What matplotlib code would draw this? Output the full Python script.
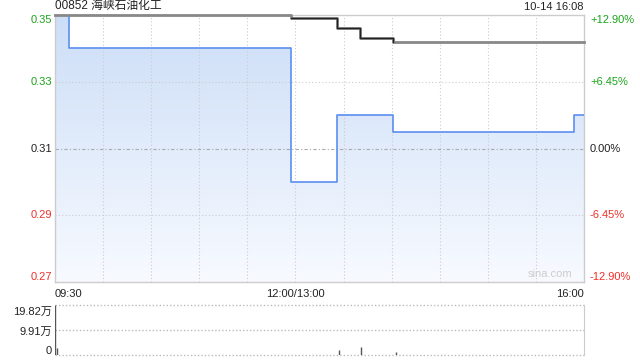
import matplotlib
matplotlib.use("Agg")
import matplotlib.pyplot as plt
import matplotlib.transforms as mtransforms
import numpy as np

plt.rcParams['font.family'] = ['Liberation Sans', 'Noto Sans CJK SC', 'DejaVu Sans']

title = "00852 海峡石油化工"
stamp = "10-14 16:08"
prev_close = 0.31

price_times = ["09:30", "09:39", "11:57", "13:26", "14:01", "15:54", "16:00"]
price_values = [0.35, 0.34, 0.30, 0.32, 0.315, 0.32, 0.32]

avg_times = ["09:30", "11:57", "13:26", "13:40", "14:01", "16:00"]
avg_values = [0.3499, 0.3491, 0.3460, 0.3430, 0.3420, 0.3420]

vol_times = ["09:30", "09:31", "13:27", "13:41", "14:03"]
vol_values = [198200, 24000, 17000, 30500, 9000]

price_ticks = [0.35, 0.33, 0.31, 0.29, 0.27]
price_tick_labels = ["0.35", "0.33", "0.31", "0.29", "0.27"]
pct_tick_labels = ["+12.90%", "+6.45%", "0.00%", "-6.45%", "-12.90%"]
vol_ticks = [198200, 99100, 0]
vol_tick_labels = ["19.82万", "9.91万", "0"]
x_labels = ["09:30", "12:00/13:00", "16:00"]


def tmin(s):
    h, m = map(int, s.split(":"))
    t = h * 60 + m
    if t <= 720:
        return t - 570
    return 150 + (t - 780)


GREEN = "#1aa51a"
RED = "#f0302a"
TXT = "#222222"

fig = plt.figure(figsize=(6.4, 3.6), dpi=100)
ax = fig.add_axes([55 / 640, 1 - 282 / 360, 529 / 640, 267 / 360])
axv = fig.add_axes([55 / 640, 1 - 354.5 / 360, 529 / 640, 50 / 360])

ymin, ymax = 0.27, 0.35
ax.set_xlim(0, 330)
ax.set_ylim(ymin, ymax)

px = [tmin(t) for t in price_times]
py = price_values

# gradient fill under price
poly = ax.fill_between(px, py, ymin, step='post', color='none', linewidth=0)
grad = np.linspace(0, 1, 256).reshape(-1, 1)
top_c = np.array([0.80, 0.87, 0.97])
bot_c = np.array([0.97, 0.98, 1.0])
img = top_c[None, None, :] * (1 - grad[:, :, None]) + bot_c[None, None, :] * grad[:, :, None]
im = ax.imshow(img, extent=[0, 330, ymin, ymax], aspect='auto', origin='upper', zorder=1)
im.set_clip_path(poly.get_paths()[0], transform=ax.transData)

# grid
for k in range(1, 11):
    ax.axvline(k * 30, color="#cccccc", lw=0.8, ls=(0, (1, 2)), zorder=2)
for v in [0.33, 0.29]:
    ax.axhline(v, color="#cccccc", lw=0.8, ls=(0, (1, 2)), zorder=2)
ax.axhline(prev_close, color="#aaaaaa", lw=0.8, ls=(0, (3, 2, 1, 2)), zorder=2)

# price line
ax.plot(px, py, drawstyle='steps-post', color="#5b8ff0", lw=1.2, zorder=4)

# average line
ax_t = [tmin(t) for t in avg_times]
ax.plot(ax_t, avg_values, drawstyle='steps-post', color="#888888", lw=2.0, zorder=5, clip_on=False)
ax.plot(ax_t[1:5], avg_values[1:5], drawstyle='steps-post', color="#222222", lw=1.0, zorder=6)

ax.set_xticks([])
ax.set_yticks([])
for s in ax.spines.values():
    s.set_color("#cccccc")
    s.set_linewidth(1.0)

# left tick labels
left_tr = mtransforms.offset_copy(ax.get_yaxis_transform(), fig=fig, x=-3, y=0, units='dots')
right_tr = mtransforms.offset_copy(ax.get_yaxis_transform(), fig=fig, x=6, y=0, units='dots')
colors = [GREEN, GREEN, TXT, RED, RED]
vas = ['top', 'center', 'center', 'center', 'bottom']
for v, lab, plab, c, va in zip(price_ticks, price_tick_labels, pct_tick_labels, colors, vas):
    ax.text(0, v, lab, transform=left_tr, ha='right', va=va, color=c, fontsize=8)
    ax.text(1, v, plab, transform=right_tr, ha='left', va=va, color=c, fontsize=8)

# x labels
xl_tr = mtransforms.offset_copy(ax.get_xaxis_transform(), fig=fig, x=0, y=-7, units='dots')
for pos, lab, ha in zip([0, 150, 330], x_labels, ['left', 'center', 'right']):
    ax.text(pos, 0, lab, transform=xl_tr, ha=ha, va='top', color=TXT, fontsize=8)

# title and stamp
t_tr = mtransforms.offset_copy(ax.transAxes, fig=fig, x=0, y=3, units='dots')
ax.text(0, 1, title, transform=t_tr, ha='left', va='bottom', color=TXT, fontsize=8.5)
ax.text(1, 1, stamp, transform=t_tr, ha='right', va='bottom', color=TXT, fontsize=8)

# watermark
ax.text(0.978, 0.012, "sina.com", transform=ax.transAxes, ha='right', va='bottom',
        color="#cccccc", fontsize=8, zorder=3)

# volume panel
axv.set_xlim(0, 330)
axv.set_ylim(0, 198200)
vt = [tmin(t) for t in vol_times]
axv.vlines(vt, 0, vol_values, color="#555555", lw=1.0, zorder=3)
axv.axhline(198200, color="#bbbbbb", lw=1.0, ls=(0, (1, 1.5)), zorder=2, clip_on=False)
axv.axhline(99100, color="#bbbbbb", lw=1.0, ls=(0, (1, 1.5)), zorder=2)
axv.axhline(0, color="#bbbbbb", lw=1.0, ls=(0, (1, 1.5)), zorder=2, clip_on=False)
axv.set_xticks([])
axv.set_yticks([])
for k in ['top', 'bottom', 'left']:
    axv.spines[k].set_visible(False)
axv.spines['right'].set_color("#cccccc")
vl_tr = mtransforms.offset_copy(axv.get_yaxis_transform(), fig=fig, x=-3, y=-2, units='dots')
for v, lab, va in zip(vol_ticks, vol_tick_labels, ['top', 'center', 'bottom']):
    axv.text(0, v, lab, transform=vl_tr, ha='right', va=va, color=TXT, fontsize=8)

fig.savefig("out.png", dpi=100)
